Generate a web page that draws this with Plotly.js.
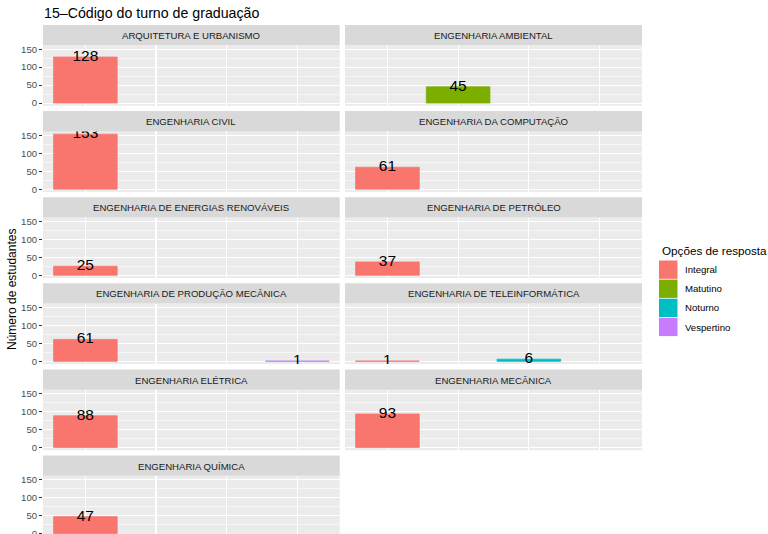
<!DOCTYPE html>
<html><head><meta charset="utf-8">
<script src="https://cdn.plot.ly/plotly-3.0.1.min.js"></script>
<style>html,body{margin:0;padding:0;background:#fff;overflow:hidden}</style>
</head><body><div id="chart" style="width:768px;height:534px"></div>
<script>
// ---- data ----
const courses = [
  'ARQUITETURA E URBANISMO',
  'ENGENHARIA AMBIENTAL',
  'ENGENHARIA CIVIL',
  'ENGENHARIA DA COMPUTAÇÃO',
  'ENGENHARIA DE ENERGIAS RENOVÁVEIS',
  'ENGENHARIA DE PETRÓLEO',
  'ENGENHARIA DE PRODUÇÃO MECÂNICA',
  'ENGENHARIA DE TELEINFORMÁTICA',
  'ENGENHARIA ELÉTRICA',
  'ENGENHARIA MECÂNICA',
  'ENGENHARIA QUÍMICA'
];
const options = ['Integral', 'Matutino', 'Noturno', 'Vespertino'];
const integral   = [128, null, 153, 61, 25, 37, 61, 1, 88, 93, 47];
const matutino   = [null, 45, null, null, null, null, null, null, null, null, null];
const noturno    = [null, null, null, null, null, null, null, 6, null, null, null];
const vespertino = [null, null, null, null, null, null, 1, null, null, null, null];
const yTicks = [0, 50, 100, 150];
const yMinor = [25, 75, 125];
const chartTitle = '15–Código do turno de graduação';
const yTitle = 'Número de estudantes';
const legendTitle = 'Opções de resposta';
const colors = ['#F8766D', '#7CAE00', '#00BFC4', '#C77CFF'];

// ---- layout helpers ----
const series = [integral, matutino, noturno, vespertino];
const W = 768, H = 534;
const px = x => x / W, py = y => 1 - y / H;
const FONT = 'Liberation Sans, Arial, Helvetica, sans-serif';
const allVals = series.flat().filter(v => v != null);
const maxV = Math.max(...allVals);
const lo = -0.05 * maxV, hi = maxV * 1.05;

const traces = [];
const layout = {
  width: W, height: H,
  margin: {l: 0, r: 0, t: 0, b: 0},
  paper_bgcolor: '#FFFFFF',
  plot_bgcolor: '#EBEBEB',
  barmode: 'overlay',
  showlegend: false,
  font: {family: FONT},
  shapes: [],
  annotations: []
};

courses.forEach((course, i) => {
  const idx = i + 1;
  const suf = idx === 1 ? '' : String(idx);
  const col = i % 2, row = Math.floor(i / 2);
  const x0 = col ? 345 : 43, x1 = col ? 642 : 339.7;
  const s = 25 + 86.1 * row;
  const top = s + 20.3;
  let bottom = s + 80.8;
  let rlo = lo;
  if (bottom > H) {
    const ppu = (bottom - top) / (hi - lo);
    rlo = hi - (H - top) / ppu;
    bottom = H;
  }
  layout['xaxis' + suf] = {
    domain: [px(x0), px(x1)], anchor: 'y' + suf,
    type: 'category', categoryorder: 'array', categoryarray: options,
    range: [-0.6, 3.6], showgrid: true, gridcolor: '#FFFFFF', gridwidth: 1.1,
    showticklabels: false, ticks: '', zeroline: false, showline: false, fixedrange: true
  };
  layout['yaxis' + suf] = {
    domain: [py(bottom), py(top)], anchor: 'x' + suf,
    range: [rlo, hi], tickmode: 'array', tickvals: yTicks, ticktext: yTicks.map(String),
    showticklabels: col === 0, ticks: col === 0 ? 'outside' : '', ticklen: 3, tickwidth: 1,
    tickcolor: '#333333', tickfont: {size: 9.6, color: '#4D4D4D', family: FONT},
    ticklabeloverflow: 'allow',
    showgrid: true, gridcolor: '#FFFFFF', gridwidth: 1.1,
    minor: {tickmode: 'array', tickvals: yMinor, showgrid: true, gridcolor: '#FFFFFF', gridwidth: 0.55, ticks: ''},
    zeroline: false, showline: false, fixedrange: true
  };
  // strip
  layout.shapes.push({type: 'rect', xref: 'paper', yref: 'paper',
    x0: px(x0), x1: px(x1), y0: py(s + 20.3), y1: py(s),
    fillcolor: '#D9D9D9', line: {width: 0}, layer: 'below'});
  layout.annotations.push({text: course, xref: 'paper', yref: 'paper',
    x: px((x0 + x1) / 2), y: py(s + 10.6), xanchor: 'center', yanchor: 'middle',
    showarrow: false, font: {size: 9.6, color: '#1A1A1A', family: FONT}});

  series.forEach((arr, k) => {
    const v = arr[i];
    if (v == null) return;
    traces.push({type: 'bar', x: [options[k]], y: [v], width: 0.9,
      marker: {color: colors[k], line: {width: 0.8, color: colors[k]}},
      xaxis: 'x' + suf, yaxis: 'y' + suf, hoverinfo: 'skip'});
    traces.push({type: 'scatter', mode: 'text', x: [options[k]], y: [v], text: [String(v)],
      textposition: 'middle center', cliponaxis: true,
      textfont: {size: 15.5, color: '#000000', family: FONT},
      xaxis: 'x' + suf, yaxis: 'y' + suf, hoverinfo: 'skip'});
  });
});

// titles
layout.annotations.push({text: chartTitle, xref: 'paper', yref: 'paper',
  x: px(42), y: py(13), xanchor: 'left', yanchor: 'middle', showarrow: false,
  font: {size: 14.2, color: '#000000', family: FONT}});
layout.annotations.push({text: yTitle, xref: 'paper', yref: 'paper',
  x: px(12), y: py(290), xanchor: 'center', yanchor: 'middle', textangle: -90,
  showarrow: false, font: {size: 12, color: '#000000', family: FONT}});

// legend (built from options/colors)
layout.annotations.push({text: legendTitle, xref: 'paper', yref: 'paper',
  x: px(660), y: py(250), xanchor: 'left', yanchor: 'middle', showarrow: false,
  font: {size: 11.7, color: '#000000', family: FONT}});
options.forEach((opt, k) => {
  const t = 260.5 + 19.1 * k;
  layout.shapes.push({type: 'rect', xref: 'paper', yref: 'paper',
    x0: px(659), x1: px(677.5), y0: py(t + 18.3), y1: py(t),
    fillcolor: colors[k], line: {width: 0}});
  layout.annotations.push({text: opt, xref: 'paper', yref: 'paper',
    x: px(683), y: py(t + 9.2), xanchor: 'left', yanchor: 'middle', showarrow: false,
    font: {size: 9.6, color: '#000000', family: FONT}});
});

Plotly.newPlot('chart', traces, layout, {staticPlot: true, displayModeBar: false});
</script></body></html>
